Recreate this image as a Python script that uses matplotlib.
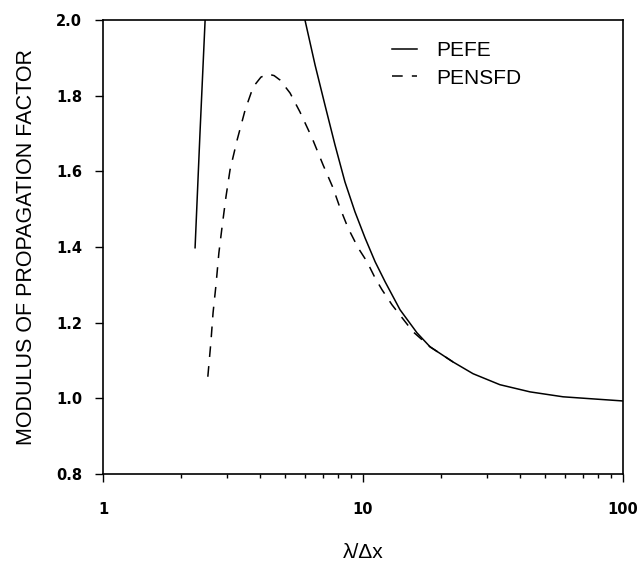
import numpy as np
import matplotlib
matplotlib.use("Agg")
import matplotlib.pyplot as plt
from matplotlib.ticker import FixedLocator, NullFormatter

# PEFE: short left branch plus decaying right branch
pefe_left_x = [2.26, 2.36, 2.47]
pefe_left_y = [1.398, 1.70, 2.00]

pefe_x = [5.98, 6.54, 7.14, 7.80, 8.52, 9.31, 10.18, 11.13, 12.16, 13.88,
          16.13, 18.11, 22.2, 26.5, 33.6, 43.9, 58.8, 74.7, 100.0]
pefe_y = [2.000, 1.881, 1.775, 1.670, 1.572, 1.493, 1.424, 1.361, 1.308, 1.234,
          1.173, 1.136, 1.096, 1.065, 1.036, 1.017, 1.004, 0.999, 0.993]

# PENSFD
pensfd_x = [2.53, 2.60, 2.65, 2.72, 2.79, 2.87, 2.97, 3.08, 3.28, 3.52, 3.78,
            4.05, 4.31, 4.55, 4.80, 5.24, 5.72, 6.37, 7.02, 7.67, 8.16, 8.76,
            9.57, 10.36, 11.13, 11.83, 12.93, 14.13, 15.57, 18.11, 22.2]
pensfd_y = [1.057, 1.149, 1.226, 1.300, 1.384, 1.453, 1.532, 1.604, 1.683, 1.762, 1.823,
            1.849, 1.857, 1.853, 1.841, 1.807, 1.757, 1.688, 1.617, 1.556, 1.503, 1.450,
            1.398, 1.361, 1.318, 1.287, 1.247, 1.213, 1.176, 1.136, 1.096]

yticks = [0.8, 1.0, 1.2, 1.4, 1.6, 1.8, 2.0]
ytick_labels = ["0.8", "1.0", "1.2", "1.4", "1.6", "1.8", "2.0"]
xticks = [1, 10, 100]
xtick_labels = ["1", "10", "100"]

plt.rcParams['font.family'] = ['Liberation Sans', 'DejaVu Sans']

fig = plt.figure(figsize=(6.37, 5.81), dpi=100)
ax = fig.add_axes([0.1617, 0.1842, 0.8164, 0.7814])

ax.plot(pefe_left_x, pefe_left_y, color='black', lw=1.1)
ax.plot(pefe_x, pefe_y, color='black', lw=1.1, label='PEFE')
ax.plot(pensfd_x, pensfd_y, color='black', lw=1.1, dashes=(7, 6), label='PENSFD')

ax.set_xscale('log')
ax.set_xlim(1, 100)
ax.set_ylim(0.8, 2.0)

tick_font = dict(family='DejaVu Sans', weight='bold', size=10.5)
ax.set_yticks(yticks)
ax.set_yticklabels(ytick_labels, fontdict=tick_font)
ax.set_xticks(xticks)
ax.set_xticklabels(xtick_labels, fontdict=tick_font)
ax.xaxis.set_minor_locator(FixedLocator([2, 3, 4, 5, 6, 7, 8, 9, 20, 30, 40, 50, 60, 70, 80, 90]))
ax.xaxis.set_minor_formatter(NullFormatter())

ax.tick_params(axis='y', direction='out', length=6, width=1, pad=9)
ax.tick_params(axis='x', which='major', direction='out', length=6, width=1, pad=14)
ax.tick_params(axis='x', which='minor', direction='out', length=3, width=1)

for s in ax.spines.values():
    s.set_linewidth(1.2)

ax.set_ylabel('MODULUS OF PROPAGATION FACTOR', fontsize=15.5, labelpad=14)
ax.set_xlabel('λ/Δx', fontsize=15, labelpad=19)

leg = ax.legend(loc='upper left', bbox_to_anchor=(0.556, 0.953), frameon=False,
                borderpad=0, borderaxespad=0,
                fontsize=15, handlelength=1.2, handletextpad=0.9, labelspacing=0.4)

fig.savefig('out.png', dpi=100)
